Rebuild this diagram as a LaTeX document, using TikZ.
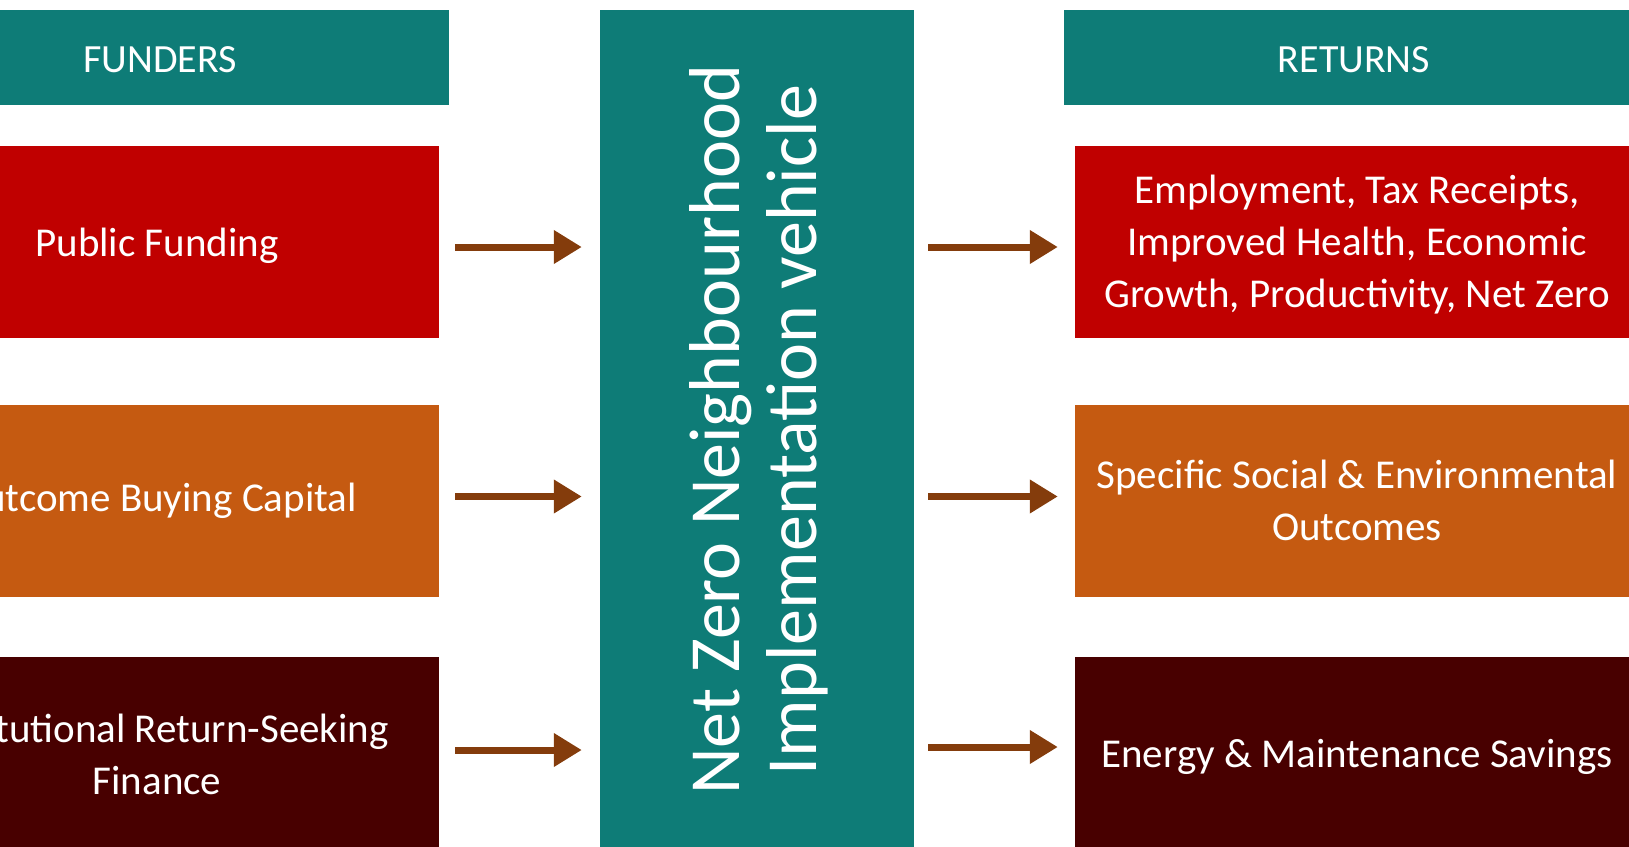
\documentclass[tikz,border=0pt]{standalone}
\usepackage{fontspec}
\setmainfont{Carlito}
\usetikzlibrary{arrows.meta}
\definecolor{tealA}{HTML}{0E7C77}
\definecolor{redA}{HTML}{C00000}
\definecolor{orangeA}{HTML}{C55A11}
\definecolor{maroonA}{HTML}{480000}
\definecolor{arrowbrown}{HTML}{843C0C}
\begin{document}
\begin{tikzpicture}[x=1pt,y=-1pt,
  box/.style={rectangle, inner sep=0pt},
  txt/.style={inner sep=0pt, text=white, align=center, font=\fontsize{41}{52}\selectfont},
  hdr/.style={box, fill=tealA, minimum height=95pt},
  row/.style={box, minimum width=564pt, minimum height=192pt},
  arr/.style={draw=arrowbrown, line width=7pt, -{Triangle[length=28pt,width=32pt]}}]
\useasboundingbox (0,0) rectangle (1629,846);
\clip (0,0) rectangle (1629,846);
% headers
\node[hdr, minimum width=578pt] (fund) at (160,57.5) {};
\node[txt, font=\fontsize{40}{50}\selectfont] (fundt) at (160,59.5) {FUNDERS};
\node[hdr, minimum width=580pt] (ret) at (1354,57.5) {};
\node[txt, font=\fontsize{40}{50}\selectfont] (rett) at (1354,59.5) {RETURNS};
% centre vehicle
\node[box, fill=tealA, minimum width=314pt, minimum height=850pt] (nzv) at (757,435) {};
\node[text=white, align=center, rotate=90, inner sep=0pt, font=\fontsize{72}{77}\selectfont] (nzvt) at (759,430) {Net Zero Neighbourhood\\Implementation vehicle};
% funders
\node[row, fill=redA] (pf) at (157,242) {};
\node[txt] (pft) at (157,246) {Public Funding};
\node[row, fill=orangeA] (oc) at (157,500.5) {};
\node[txt] (oct) at (157,500.5) {Outcome Buying Capital};
\node[row, fill=maroonA] (ir) at (157,753) {};
\node[txt] (irt) at (157,754) {Institutional Return-Seeking\\Finance};
% returns
\node[row, fill=redA] (er) at (1357,242) {};
\node[txt] (ert) at (1357,245) {Employment, Tax Receipts,\\Improved Health, Economic\\Growth, Productivity, Net Zero};
\node[row, fill=orangeA] (so) at (1357,500.5) {};
\node[txt] (sot) at (1357,500.5) {Specific Social \& Environmental\\Outcomes};
\node[row, fill=maroonA] (em) at (1357,753) {};
\node[txt] (emt) at (1357,757) {Energy \& Maintenance Savings};
% arrows
\draw[arr, shorten <=16pt, shorten >=18pt] ([yshift=-5pt]pf.east) -- ([yshift=-5pt]nzv.west |- pf.east);
\draw[arr, shorten <=16pt, shorten >=18pt] ([yshift=4pt]oc.east) -- ([yshift=4pt]nzv.west |- oc.east);
\draw[arr, shorten <=16pt, shorten >=18pt] ([yshift=3pt]ir.east) -- ([yshift=3pt]nzv.west |- ir.east);
\draw[arr, shorten <=14pt, shorten >=17pt] ([yshift=-5pt]nzv.east |- er.west) -- ([yshift=-5pt]er.west);
\draw[arr, shorten <=14pt, shorten >=17pt] ([yshift=4pt]nzv.east |- so.west) -- ([yshift=4pt]so.west);
\draw[arr, shorten <=14pt, shorten >=17pt] ([yshift=6pt]nzv.east |- em.west) -- ([yshift=6pt]em.west);
\end{tikzpicture}
\end{document}
